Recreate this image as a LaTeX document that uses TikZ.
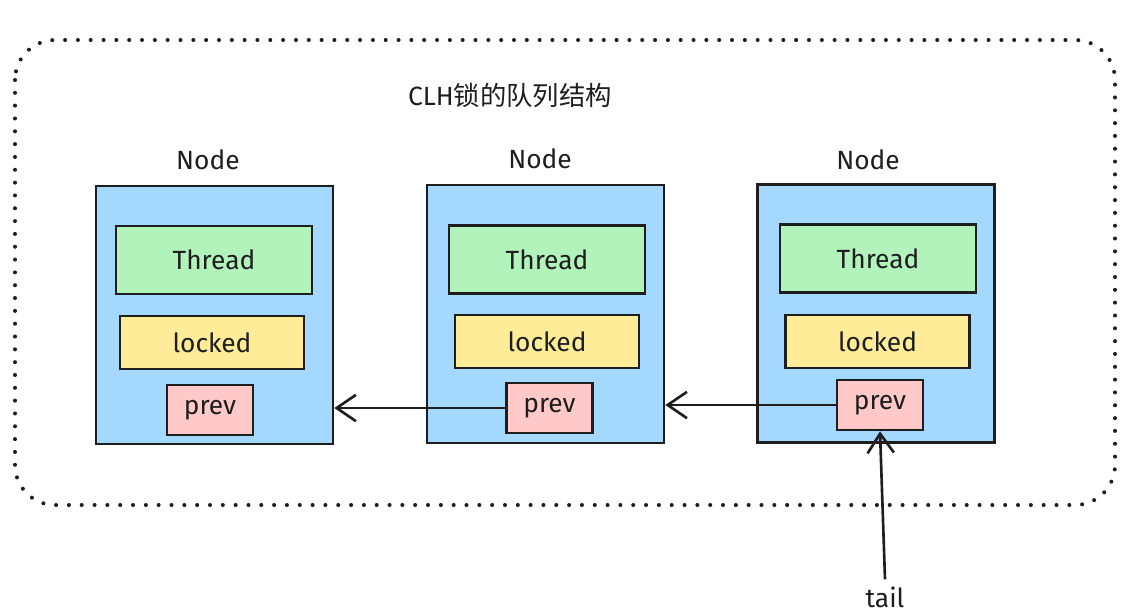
\documentclass[tikz,border=0pt]{standalone}
\usepackage{fontspec}
\setmainfont{Fira Sans}
\newfontfamily\cjk{Noto Sans CJK SC}
\usetikzlibrary{arrows.meta}

\definecolor{inkline}{HTML}{1E1E1E}
\definecolor{nodeblue}{HTML}{A5D8FF}
\definecolor{threadgreen}{HTML}{B2F2BB}
\definecolor{lockyellow}{HTML}{FFEC99}
\definecolor{prevpink}{HTML}{FFC9C9}

\begin{document}
\begin{tikzpicture}[x=0.02cm, y=-0.02cm,
    line width=1.5pt, draw=inkline,
    txt/.style={font=\fontsize{15}{18}\selectfont, text=inkline},
    clhbox/.style={draw=inkline, line width=1.5pt, fill=nodeblue, minimum width=4.74cm, minimum height=5.16cm, inner sep=0},
    threadbox/.style={draw=inkline, line width=1.5pt, fill=threadgreen, minimum width=3.92cm, minimum height=1.36cm, inner sep=0, txt},
    lockbox/.style={draw=inkline, line width=1.5pt, fill=lockyellow, minimum width=3.68cm, minimum height=1.06cm, inner sep=0, txt},
    prevbox/.style={draw=inkline, line width=1.5pt, fill=prevpink, minimum width=1.72cm, minimum height=1.0cm, inner sep=0, txt},
    link/.style={draw=inkline, line width=1.5pt, -{Straight Barb[length=11pt, width=15pt, line width=1.5pt]}},
    ]
    \useasboundingbox (0,0) rectangle (1129,613);

    % dotted frame around the queue
    \draw[inkline, line width=2.3pt, line cap=round, dash pattern=on 0pt off 7.3pt, rounded corners=0.8cm]
        (15,40) rectangle (1115,505);
    \node[txt] (title) at (510,95) {CLH\cjk 锁的队列结构};

    % first node
    \node[txt] (lbl1) at (208,160) {Node};
    \node[clhbox] (box1) at (214.5,315) {};
    \node[threadbox] (thread1) at (214,260) {Thread};
    \node[lockbox] (locked1) at (212,342.5) {locked};
    \node[prevbox] (prev1) at (210,410) {prev};

    % second node
    \node[txt] (lbl2) at (540,159) {Node};
    \node[clhbox] (box2) at (545.5,314) {};
    \node[threadbox] (thread2) at (547,259.5) {Thread};
    \node[lockbox] (locked2) at (547,341.5) {locked};
    \node[prevbox] (prev2) at (549.5,408) {prev};

    % third node
    \node[txt] (lbl3) at (868,160) {Node};
    \node[clhbox] (box3) at (876,313.5) {};
    \node[threadbox] (thread3) at (878,258.5) {Thread};
    \node[lockbox] (locked3) at (877.5,341.5) {locked};
    \node[prevbox] (prev3) at (880,405) {prev};

    % prev pointers
    \draw[link] (prev2.west) -- (prev2.west -| box1.east);
    \draw[link] (prev3.west) -- (prev3.west -| box2.east);

    % tail pointer
    \node[txt] (tail) at (885,597) {tail};
    \draw[link] (tail.north) -- (prev3.south);
\end{tikzpicture}
\end{document}
